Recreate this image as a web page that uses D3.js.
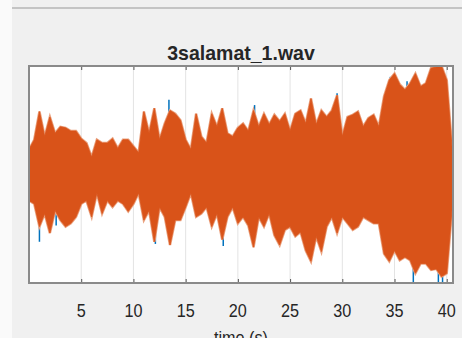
<!DOCTYPE html>
<html>
<head>
<meta charset="utf-8">
<script src="https://cdn.jsdelivr.net/npm/d3@7"></script>
<style>
  body { margin: 0; background: #f0f0f0; }
  svg { display: block; }
  text { font-family: "Liberation Sans", Arial, sans-serif; fill: #262626; }
</style>
</head>
<body>
<svg id="chart" width="462" height="338"></svg>
<script>
// envelope of the waveform, read every 0.5 s (0 .. 40.5 s)
const times = d3.range(0, 41, 0.5);
const upperEnv = [
  0.23, 0.32, 0.58, 0.35, 0.53, 0.38, 0.44, 0.43, 0.40, 0.40,
  0.33, 0.29, 0.16, 0.32, 0.29, 0.29, 0.33, 0.24, 0.32, 0.32,
  0.26, 0.20, 0.58, 0.38, 0.61, 0.32, 0.47, 0.59, 0.56, 0.50,
  0.32, 0.23, 0.56, 0.35, 0.29, 0.56, 0.44, 0.61, 0.38, 0.35,
  0.43, 0.47, 0.40, 0.59, 0.44, 0.56, 0.46, 0.55, 0.49, 0.56,
  0.40, 0.56, 0.59, 0.47, 0.70, 0.46, 0.59, 0.53, 0.59, 0.73,
  0.35, 0.53, 0.55, 0.58, 0.44, 0.52, 0.55, 0.44, 0.72, 0.87,
  0.93, 0.83, 0.78, 0.84, 0.93, 0.81, 0.84, 0.98, 0.99, 1.00,
  0.87, 0.26
];
const lowerEnv = [
  -0.24, -0.27, -0.48, -0.36, -0.54, -0.33, -0.42, -0.48, -0.45, -0.39,
  -0.27, -0.24, -0.39, -0.17, -0.36, -0.24, -0.30, -0.24, -0.27, -0.34,
  -0.27, -0.17, -0.42, -0.33, -0.62, -0.30, -0.39, -0.65, -0.42, -0.42,
  -0.30, -0.17, -0.39, -0.36, -0.30, -0.48, -0.36, -0.60, -0.39, -0.30,
  -0.45, -0.39, -0.47, -0.67, -0.39, -0.48, -0.36, -0.56, -0.65, -0.51,
  -0.48, -0.57, -0.53, -0.70, -0.80, -0.57, -0.71, -0.48, -0.39, -0.54,
  -0.39, -0.45, -0.51, -0.48, -0.39, -0.42, -0.45, -0.45, -0.73, -0.80,
  -0.70, -0.79, -0.76, -0.79, -0.91, -0.82, -0.82, -0.88, -0.87, -0.94,
  -0.91, -0.33
];
// channel 1 only shows where it pokes past channel 2
const blueTimes = [1.0, 2.6, 12.1, 13.4, 18.6, 21.6, 27.0, 29.5, 34.6, 36.2, 36.8, 39.2, 39.6];
const blueValues = [-0.62, -0.47, -0.64, 0.69, -0.66, 0.64, -0.72, 0.75, 0.90, 0.86, -1.0, -1.0, -1.0];
const xTicks = [5, 10, 15, 20, 25, 30, 35, 40];

const svg = d3.select("#chart");
const plotLeft = 29, plotRight = 453, plotTop = 66, plotBottom = 283;

// figure chrome
svg.append("rect").attr("width", 462).attr("height", 338).attr("fill", "#f0f0f0");
svg.append("rect").attr("width", 12).attr("height", 338).attr("fill", "#fafafa");
svg.append("rect").attr("x", 12).attr("y", 7).attr("width", 450).attr("height", 2).attr("fill", "#c4c4c4");

const x = d3.scaleLinear().domain([0, 40.6]).range([plotLeft, plotRight]);
const y = d3.scaleLinear().domain([-1, 1]).range([plotBottom, plotTop]);

svg.append("rect")
  .attr("x", plotLeft).attr("y", plotTop)
  .attr("width", plotRight - plotLeft).attr("height", plotBottom - plotTop)
  .attr("fill", "#fff");

svg.append("clipPath").attr("id", "plot")
  .append("rect")
  .attr("x", plotLeft).attr("y", plotTop)
  .attr("width", plotRight - plotLeft).attr("height", plotBottom - plotTop);

// grid
svg.append("g")
  .selectAll("line")
  .data(xTicks)
  .enter()
  .append("line")
  .attr("x1", (d) => x(d)).attr("x2", (d) => x(d))
  .attr("y1", plotTop).attr("y2", plotBottom)
  .attr("stroke", "#e3e3e3")
  .attr("stroke-width", 1);

const wave = svg.append("g").attr("clip-path", "url(#plot)");

wave.selectAll(".blue")
  .data(blueTimes)
  .enter()
  .append("line")
  .attr("class", "blue")
  .attr("x1", (d) => x(d)).attr("x2", (d) => x(d))
  .attr("y1", y(0))
  .attr("y2", (d, i) => y(blueValues[i]))
  .attr("stroke", "#0072bd")
  .attr("stroke-width", 1.5);

const area = d3.area()
  .x((d, i) => x(times[i]))
  .y0((d, i) => y(lowerEnv[i]))
  .y1((d, i) => y(upperEnv[i]));

// soft fringe, like the antialiased sample strokes
wave.append("path")
  .datum(times)
  .attr("d", area)
  .attr("fill", "none")
  .attr("stroke", "#eaa27f")
  .attr("stroke-width", 2.5);

wave.append("path")
  .datum(times)
  .attr("d", area)
  .attr("fill", "#d95319")
  .attr("stroke", "#d95319")
  .attr("stroke-width", 0.8);

// axes box with inward ticks
const xAxisBottom = d3.axisBottom(x).tickValues(xTicks).tickSize(-4).tickFormat("");
const xAxisTop = d3.axisTop(x).tickValues(xTicks).tickSize(-4).tickFormat("");
svg.append("g").attr("transform", `translate(0,${plotBottom})`).call(xAxisBottom)
  .call((g) => g.select(".domain").remove())
  .selectAll("line").attr("stroke", "#555");
svg.append("g").attr("transform", `translate(0,${plotTop})`).call(xAxisTop)
  .call((g) => g.select(".domain").remove())
  .selectAll("line").attr("stroke", "#555");

svg.append("rect")
  .attr("x", plotLeft).attr("y", plotTop)
  .attr("width", plotRight - plotLeft).attr("height", plotBottom - plotTop)
  .attr("fill", "none")
  .attr("stroke", "#8a8a8a")
  .attr("stroke-width", 2);

// tick labels
svg.append("g")
  .selectAll("text")
  .data(xTicks)
  .enter()
  .append("text")
  .attr("transform", (d) => `translate(${x(d)},317) scale(0.9,1)`)
  .attr("text-anchor", "middle")
  .attr("font-size", 18)
  .text((d) => d);

svg.append("text")
  .attr("transform", `translate(${(plotLeft + plotRight) / 2},60) scale(0.93,1)`)
  .attr("text-anchor", "middle")
  .attr("font-size", 21)
  .attr("font-weight", "bold")
  .attr("fill", "#000")
  .text("3salamat_1.wav");

// x label sits partly below the window edge, as in the source screenshot
svg.append("text")
  .attr("transform", `translate(${(plotLeft + plotRight) / 2},344) scale(0.9,1)`)
  .attr("text-anchor", "middle")
  .attr("font-size", 18)
  .text("time (s)");
</script>
</body>
</html>
